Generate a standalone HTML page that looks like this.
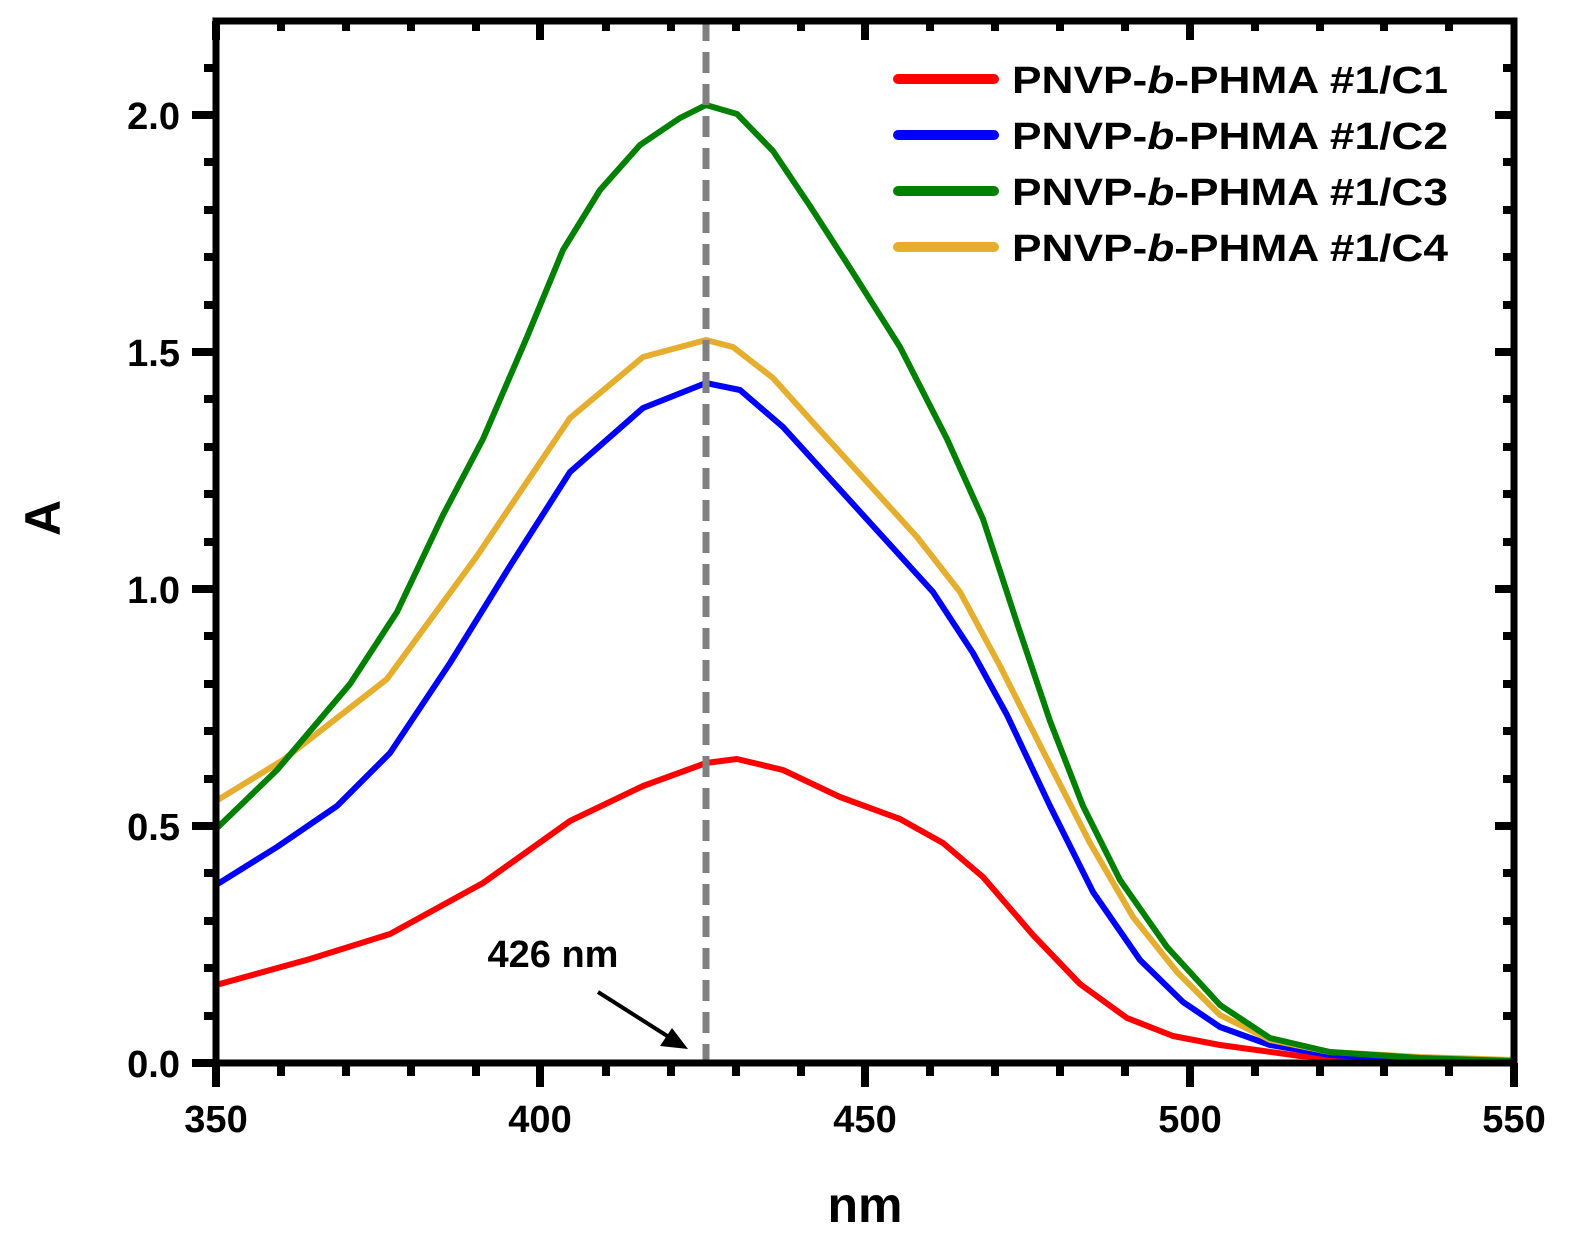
<!DOCTYPE html>
<html><head><style>body{margin:0;background:#fff}svg{display:block}</style></head><body>
<svg width="1569" height="1241" viewBox="0 0 1569 1241" xmlns="http://www.w3.org/2000/svg" font-family="Liberation Sans, Arial, sans-serif" font-weight="bold">
<rect width="1569" height="1241" fill="#fff"/>
<g fill="none" stroke-width="6" stroke-linejoin="round" stroke-linecap="round">
<path stroke="#ff0000" d="M216,985 L310,959 L390,934 L483,883 L570,821 L643,786 L706,763 L737,759 L783,770 L840,797 L900,819 L943,843 L983,877 L1033,935 L1080,984 L1127,1018 L1173,1036 L1220,1045 L1300,1056 L1400,1060 L1514,1062"/>
<path stroke="#0000ff" d="M216,885 L277,847 L337,806 L390,753 L450,663 L510,566 L570,472 L643,408 L706,383 L740,390 L783,427 L833,482 L883,537 L933,592 L973,653 L1007,715 L1050,806 L1093,892 L1140,960 L1183,1002 L1220,1027 L1270,1045 L1330,1055 L1420,1060 L1514,1062"/>
<path stroke="#e5ae2f" d="M216,801 L283,760 L387,679 L477,556 L570,418 L643,357 L706,340 L733,347 L773,378 L817,427 L867,482 L917,537 L960,592 L1000,666 L1043,751 L1090,843 L1133,917 L1177,972 L1220,1015 L1270,1040 L1330,1052 L1420,1057 L1514,1060"/>
<path stroke="#008000" d="M216,829 L277,770 L350,684 L397,612 L443,515 L483,439 L527,337 L563,250 L600,190 L640,145 L680,118 L706,105 L737,114 L773,151 L810,206 L850,268 L900,347 L947,439 L983,519 L1017,623 L1050,721 L1083,806 L1120,880 L1167,947 L1220,1005 L1270,1038 L1330,1052 L1420,1058 L1514,1061"/>
</g>
<line x1="706" y1="20" x2="706" y2="1063" stroke="#808080" stroke-width="7" stroke-dasharray="21,11"/>
<g stroke="#000" stroke-width="7" fill="none">
<rect x="216" y="21" width="1298" height="1042"/>
</g>
<g stroke="#000" stroke-width="8">
<line x1="216" y1="1063" x2="216" y2="1087"/><line x1="540" y1="1063" x2="540" y2="1087"/><line x1="865" y1="1063" x2="865" y2="1087"/><line x1="1190" y1="1063" x2="1190" y2="1087"/><line x1="1514" y1="1063" x2="1514" y2="1087"/>
<line x1="216" y1="21" x2="216" y2="40"/><line x1="540" y1="21" x2="540" y2="40"/><line x1="865" y1="21" x2="865" y2="40"/><line x1="1190" y1="21" x2="1190" y2="40"/>
<line x1="192" y1="1063" x2="216" y2="1063"/><line x1="192" y1="826" x2="216" y2="826"/><line x1="192" y1="589" x2="216" y2="589"/><line x1="192" y1="352" x2="216" y2="352"/><line x1="192" y1="115" x2="216" y2="115"/>
<line x1="1495" y1="826" x2="1514" y2="826"/><line x1="1495" y1="589" x2="1514" y2="589"/><line x1="1495" y1="352" x2="1514" y2="352"/><line x1="1495" y1="115" x2="1514" y2="115"/>
</g>
<g stroke="#000" stroke-width="8">
<path d="M281,1063v13M346,1063v13M411,1063v13M476,1063v13M606,1063v13M671,1063v13M736,1063v13M801,1063v13M930,1063v13M995,1063v13M1060,1063v13M1125,1063v13M1255,1063v13M1320,1063v13M1384,1063v13M1449,1063v13"/>
<path d="M281,21v10M346,21v10M411,21v10M476,21v10M606,21v10M671,21v10M736,21v10M801,21v10M930,21v10M995,21v10M1060,21v10M1125,21v10M1255,21v10M1320,21v10M1384,21v10M1449,21v10"/>
<path d="M216,1016h-12M216,968h-12M216,921h-12M216,873h-12M216,779h-12M216,731h-12M216,684h-12M216,636h-12M216,542h-12M216,494h-12M216,447h-12M216,399h-12M216,305h-12M216,257h-12M216,210h-12M216,162h-12M216,68h-12"/>
<path d="M1514,1016h-11M1514,968h-11M1514,921h-11M1514,873h-11M1514,779h-11M1514,731h-11M1514,684h-11M1514,636h-11M1514,542h-11M1514,494h-11M1514,447h-11M1514,399h-11M1514,305h-11M1514,257h-11M1514,210h-11M1514,162h-11M1514,68h-11"/>
</g>
<g font-size="38" fill="#000" text-anchor="middle">
<text x="216" y="1132">350</text><text x="540" y="1132">400</text><text x="865" y="1132">450</text><text x="1190" y="1132">500</text><text x="1514" y="1132">550</text>
</g>
<g font-size="38" fill="#000" text-anchor="end">
<text x="180" y="1077">0.0</text><text x="180" y="840">0.5</text><text x="180" y="603">1.0</text><text x="180" y="366">1.5</text><text x="180" y="129">2.0</text>
</g>
<text x="865" y="1222" font-size="50" text-anchor="middle">nm</text>
<text transform="translate(60,518) rotate(-90)" font-size="50" text-anchor="middle">A</text>
<text x="553" y="967" font-size="38" text-anchor="middle">426 nm</text>
<line x1="598" y1="992" x2="672" y2="1039" stroke="#000" stroke-width="4"/>
<polygon points="688,1049 660,1046 672,1028" fill="#000"/>
<g stroke-width="10" stroke-linecap="round">
<line x1="898" y1="79" x2="994" y2="79" stroke="#ff0000"/>
<line x1="898" y1="135" x2="994" y2="135" stroke="#0000ff"/>
<line x1="898" y1="191" x2="994" y2="191" stroke="#008000"/>
<line x1="898" y1="247" x2="994" y2="247" stroke="#e5ae2f"/>
</g>
<g font-size="38" fill="#000">
<text x="1012" y="93" textLength="436" lengthAdjust="spacingAndGlyphs">PNVP-<tspan font-style="italic">b</tspan>-PHMA #1/C1</text>
<text x="1012" y="149" textLength="436" lengthAdjust="spacingAndGlyphs">PNVP-<tspan font-style="italic">b</tspan>-PHMA #1/C2</text>
<text x="1012" y="205" textLength="436" lengthAdjust="spacingAndGlyphs">PNVP-<tspan font-style="italic">b</tspan>-PHMA #1/C3</text>
<text x="1012" y="261" textLength="436" lengthAdjust="spacingAndGlyphs">PNVP-<tspan font-style="italic">b</tspan>-PHMA #1/C4</text>
</g>
</svg>
</body></html>
